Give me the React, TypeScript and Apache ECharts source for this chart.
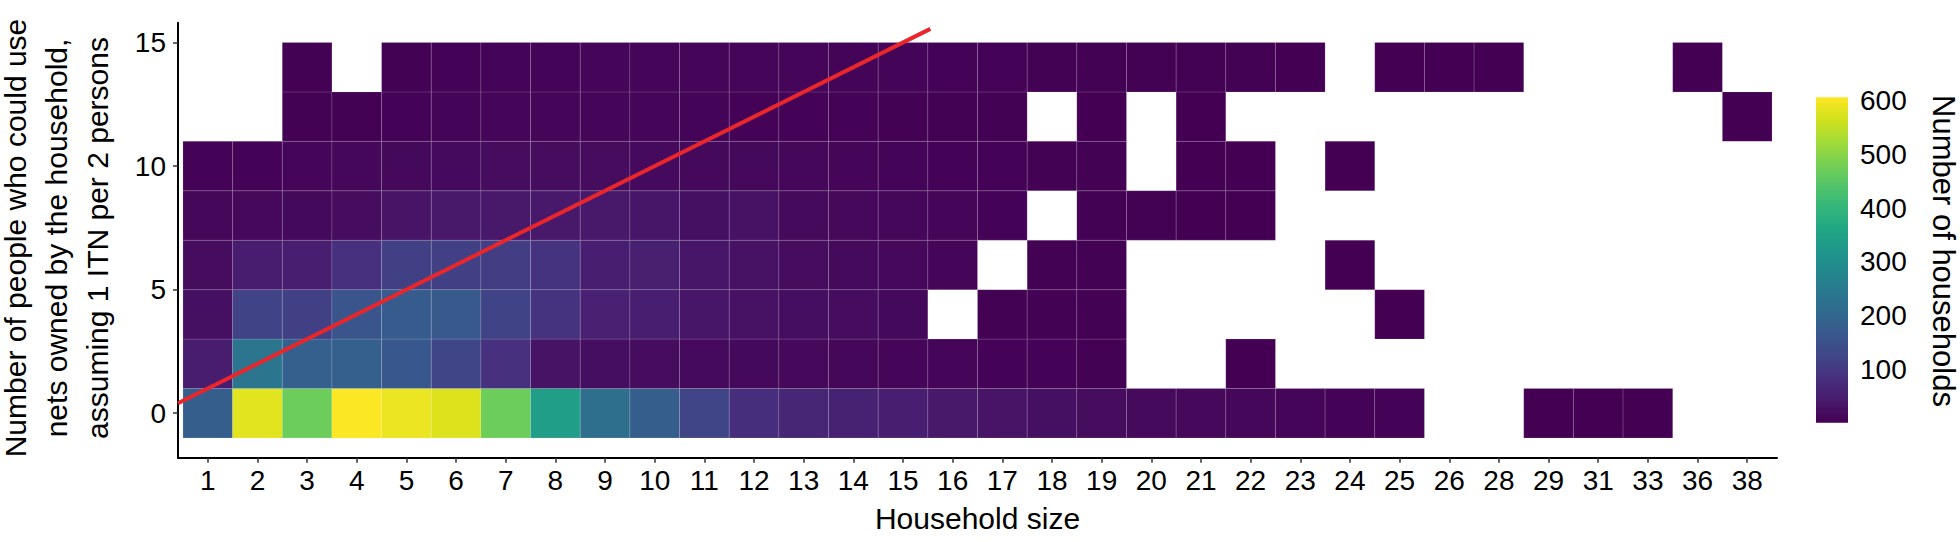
import React, { useEffect, useRef } from "react";
import * as echarts from "echarts";

// Household size categories (x axis)
const householdSizes = [
  "1", "2", "3", "4", "5", "6", "7", "8", "9", "10", "11", "12", "13", "14", "15", "16",
  "17", "18", "19", "20", "21", "22", "23", "24", "25", "26", "28", "29", "31", "33", "36", "38",
];

// Number of people who could use nets (row centres, y axis)
const netUsers = [0, 2, 4, 6, 8, 10, 12, 14];

// Number of households per cell, one array per row (null = no households)
const countsAt0 = [180, 580, 470, 605, 590, 575, 470, 340, 220, 180, 125, 80, 64, 56, 50, 40, 32, 25, 20, 15, 12, 10, 7, 5, 4, null, null, 1, 1, 1, null, null];
const countsAt2 = [45, 235, 185, 185, 165, 125, 85, 30, 22, 20, 16, 14, 12, 10, 9, 7, 5, 4, 3, null, null, 1, null, null, null, null, null, null, null, null, null, null];
const countsAt4 = [25, 120, 115, 160, 175, 170, 120, 90, 55, 50, 35, 28, 22, 18, 14, null, 3, 3, 2, null, null, null, null, null, 1, null, null, null, null, null, null, null];
const countsAt6 = [20, 45, 50, 85, 115, 115, 110, 90, 50, 52, 35, 28, 20, 15, 12, 8, null, 2, 2, null, null, null, null, 1, null, null, null, null, null, null, null, null];
const countsAt8 = [10, 12, 14, 20, 32, 40, 40, 40, 38, 35, 25, 28, 15, 12, 10, 7, 5, null, 2, 2, 1, 1, null, null, null, null, null, null, null, null, null, null];
const countsAt10 = [5, 5, 8, 10, 14, 16, 18, 18, 18, 16, 14, 14, 10, 8, 6, 5, 4, 2, 2, null, 1, 1, null, 1, null, null, null, null, null, null, null, null];
const countsAt12 = [null, null, 2, 3, 4, 6, 7, 7, 7, 7, 6, 5, 4, 4, 3, 3, 2, null, 1, null, 1, null, null, null, null, null, null, null, null, null, null, 1];
const countsAt14 = [null, null, 2, null, 3, 5, 6, 6, 7, 7, 8, 8, 7, 6, 6, 5, 4, 3, 3, 2, 2, 2, 1, null, 1, 1, 1, null, null, null, 1, null];
const countRows = [countsAt0, countsAt2, countsAt4, countsAt6, countsAt8, countsAt10, countsAt12, countsAt14];

// Reference line (1 ITN per 2 persons covers everyone)
const refLineX = [0.4, 15.55];
const refLineY = [0.4, 15.55];

// Axis ticks
const yTicks = [0, 5, 10, 15];
const legendTicks = [100, 200, 300, 400, 500, 600];
const countMin = 1;
const countMax = 606;

const viridis = [
  "#440154", "#481a6c", "#472f7d", "#414487", "#39568c", "#31688e", "#2a788e", "#23888e",
  "#1f988b", "#22a884", "#35b779", "#54c568", "#7ad151", "#a5db36", "#d2e21b", "#fde725",
];

const FONT = "'Liberation Sans', Arial, Helvetica, sans-serif";

export default function App() {
  const ref = useRef<HTMLDivElement>(null);

  useEffect(() => {
    if (!ref.current) return;
    const chart = echarts.init(ref.current, undefined, { renderer: "svg" });

    const cells: number[][] = [];
    countRows.forEach((row, ri) => {
      row.forEach((v, ci) => {
        if (v !== null && v !== undefined) cells.push([ci + 1, netUsers[ri], v]);
      });
    });

    const xPositions = householdSizes.map((_, i) => i + 1);

    const gradientStops = viridis.map((c, i) => ({ offset: i / (viridis.length - 1), color: c }));

    const option: any = {
      animation: false,
      backgroundColor: "#ffffff",
      textStyle: { fontFamily: FONT },
      grid: [
        { left: 178, top: 22.7, width: 1599, height: 435 },
        { left: 1816, top: 97.3, width: 32, height: 325.4 },
      ],
      xAxis: [
        {
          type: "value",
          gridIndex: 0,
          min: 0.4,
          max: 32.6,
          name: "Household size",
          nameLocation: "middle",
          nameGap: 46,
          nameTextStyle: { fontSize: 30, color: "#000", fontFamily: FONT },
          axisLine: { show: true, onZero: false, lineStyle: { color: "#000", width: 2 } },
          axisTick: { show: true, length: 5, lineStyle: { color: "#333", width: 1.5 }, customValues: xPositions },
          axisLabel: {
            fontSize: 28,
            color: "#000",
            margin: 9,
            fontFamily: FONT,
            customValues: xPositions,
            formatter: (v: number) => householdSizes[Math.round(v) - 1] ?? "",
          },
          splitLine: { show: false },
        },
        {
          type: "value",
          gridIndex: 1,
          min: 0,
          max: 1,
          show: false,
        },
      ],
      yAxis: [
        {
          type: "value",
          gridIndex: 0,
          min: -1.8,
          max: 15.8,
          axisLine: { show: true, onZero: false, lineStyle: { color: "#000", width: 2 } },
          axisTick: { show: true, length: 5, lineStyle: { color: "#333", width: 1.5 }, customValues: yTicks },
          axisLabel: { fontSize: 28, color: "#000", margin: 12, fontFamily: FONT, customValues: yTicks },
          splitLine: { show: false },
        },
        {
          type: "value",
          gridIndex: 1,
          position: "right",
          min: countMin,
          max: countMax,
          axisLine: { show: false },
          axisTick: { show: true, inside: true, length: 6, lineStyle: { color: "#ffffff", width: 1.2 }, customValues: legendTicks },
          axisLabel: { fontSize: 28, color: "#000", margin: 12, fontFamily: FONT, customValues: legendTicks },
          splitLine: { show: false },
        },
        {
          type: "value",
          gridIndex: 1,
          position: "left",
          min: countMin,
          max: countMax,
          axisLine: { show: false },
          axisTick: { show: true, inside: true, length: 6, lineStyle: { color: "#ffffff", width: 1.2 }, customValues: legendTicks },
          axisLabel: { show: false },
          splitLine: { show: false },
        },
      ],
      visualMap: {
        show: false,
        type: "continuous",
        seriesIndex: 0,
        dimension: 2,
        min: countMin,
        max: countMax,
        inRange: { color: viridis },
      },
      series: [
        {
          type: "custom",
          xAxisIndex: 0,
          yAxisIndex: 0,
          data: cells,
          renderItem: (params: any, api: any) => {
            const x = api.value(0);
            const y = api.value(1);
            const p1 = api.coord([x - 0.5, y + 1]);
            const p2 = api.coord([x + 0.5, y - 1]);
            return {
              type: "rect",
              shape: { x: p1[0], y: p1[1], width: p2[0] - p1[0], height: p2[1] - p1[1] },
              style: { fill: api.visual("color"), stroke: "rgba(255,255,255,0.16)", lineWidth: 0.8 },
            };
          },
          z: 2,
        },
        {
          type: "line",
          xAxisIndex: 0,
          yAxisIndex: 0,
          data: refLineX.map((x, i) => [x, refLineY[i]]),
          symbol: "none",
          lineStyle: { color: "#e8262b", width: 4 },
          z: 5,
        },
        {
          type: "custom",
          xAxisIndex: 1,
          yAxisIndex: 1,
          data: [[0, countMin, countMax]],
          renderItem: (params: any, api: any) => {
            const p1 = api.coord([0, api.value(2)]);
            const p2 = api.coord([1, api.value(1)]);
            return {
              type: "rect",
              shape: { x: p1[0], y: p1[1], width: p2[0] - p1[0], height: p2[1] - p1[1] },
              style: { fill: new echarts.graphic.LinearGradient(0, 1, 0, 0, gradientStops) },
            };
          },
          z: 1,
        },
      ],
      graphic: [
        {
          type: "text",
          x: 56,
          y: 238,
          rotation: Math.PI / 2,
          style: {
            text: "Number of people who could use\nnets owned by the household,\nassuming 1 ITN per 2 persons",
            fontSize: 30,
            lineHeight: 41,
            fill: "#000",
            fontFamily: FONT,
            align: "center",
            verticalAlign: "middle",
          },
        },
        {
          type: "text",
          x: 1943,
          y: 251,
          rotation: -Math.PI / 2,
          style: {
            text: "Number of households",
            fontSize: 31,
            fill: "#000",
            fontFamily: FONT,
            align: "center",
            verticalAlign: "middle",
          },
        },
      ],
    };

    chart.setOption(option);
    return () => {
      chart.dispose();
    };
  }, []);

  return (
    <div
      ref={ref}
      style={{ position: "fixed", left: 0, top: 0, width: 1960, height: 542, background: "#fff" }}
    />
  );
}
